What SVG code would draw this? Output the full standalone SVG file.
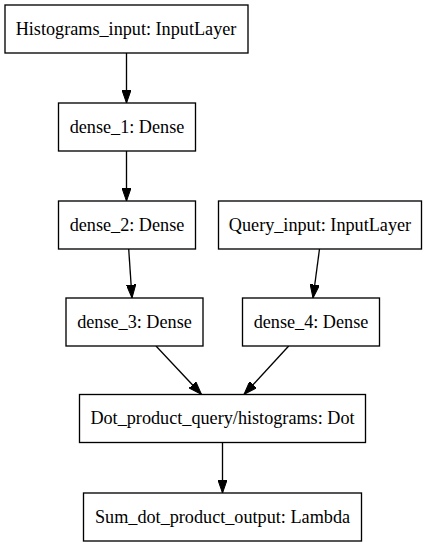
<svg xmlns="http://www.w3.org/2000/svg" width="427" height="547" viewBox="0 0 427 547">
<defs>
<style>
.node rect{fill:#fff;stroke:#000;stroke-width:1.33}
.node text{font-family:"Liberation Serif","Times New Roman",serif;font-size:18.2px;fill:#000;text-anchor:middle}
.edges line{stroke:#000;stroke-width:1.33;marker-end:url(#arr)}
</style>
<marker id="arr" markerUnits="userSpaceOnUse" viewBox="0 0 13.33 9.33" refX="13.33" refY="4.67" markerWidth="13.33" markerHeight="9.33" orient="auto">
<path d="M0,0 L13.33,4.67 L0,9.33 Z" fill="#000" stroke="#000" stroke-width="1"/>
</marker>
</defs>
<rect width="427" height="547" fill="#fff"/>
<g class="edges" id="edges">
<line x1="126.5" y1="53" x2="126.5" y2="103"/>
<line x1="126.5" y1="151" x2="126.5" y2="201"/>
<line x1="128.7" y1="249" x2="132" y2="298"/>
<line x1="319.5" y1="249" x2="313" y2="298"/>
<line x1="156" y1="346" x2="201.5" y2="394.5"/>
<line x1="288.7" y1="346" x2="244" y2="394.5"/>
<line x1="222.5" y1="443" x2="222.5" y2="493"/>
</g>
<g class="node" id="histograms_input">
<rect x="5" y="5" width="243" height="48"/>
<text x="126" y="34.6">Histograms_input: InputLayer</text>
</g>
<g class="node" id="dense_1">
<rect x="58.5" y="103" width="137" height="48"/>
<text x="127" y="132.6">dense_1: Dense</text>
</g>
<g class="node" id="dense_2">
<rect x="58.5" y="201" width="137" height="48"/>
<text x="127" y="230.6">dense_2: Dense</text>
</g>
<g class="node" id="query_input">
<rect x="218.5" y="201" width="203" height="48"/>
<text x="320" y="230.6">Query_input: InputLayer</text>
</g>
<g class="node" id="dense_3">
<rect x="66" y="298" width="137" height="48"/>
<text x="134.5" y="327.6">dense_3: Dense</text>
</g>
<g class="node" id="dense_4">
<rect x="242.5" y="298" width="137" height="48"/>
<text x="311" y="327.6">dense_4: Dense</text>
</g>
<g class="node" id="dot_product">
<rect x="79.5" y="394.5" width="286" height="48"/>
<text x="222.5" y="424.1">Dot_product_query/histograms: Dot</text>
</g>
<g class="node" id="sum_output">
<rect x="83.5" y="493" width="278" height="48"/>
<text x="222.5" y="522.6">Sum_dot_product_output: Lambda</text>
</g>
</svg>
